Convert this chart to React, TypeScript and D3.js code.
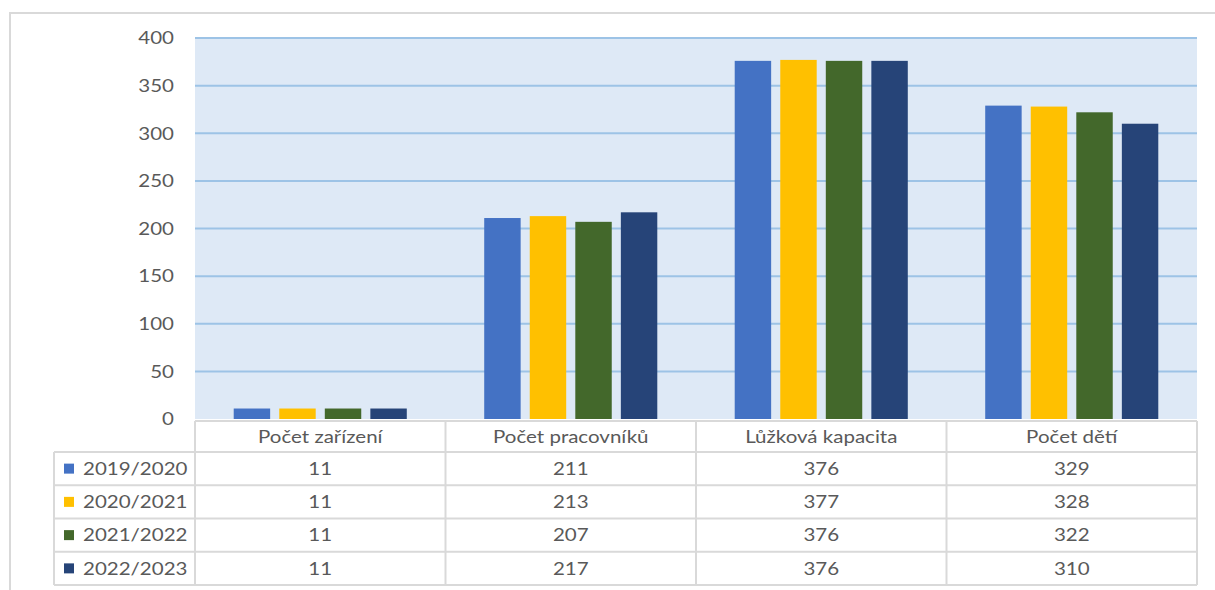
import React from "react";
import * as d3 from "d3";

const categories = ["Počet zařízení", "Počet pracovníků", "Lůžková kapacita", "Počet dětí"];
const seriesNames = ["2019/2020", "2020/2021", "2021/2022", "2022/2023"];
const s2019 = [11, 211, 376, 329];
const s2020 = [11, 213, 377, 328];
const s2021 = [11, 207, 376, 322];
const s2022 = [11, 217, 376, 310];
const seriesValues = [s2019, s2020, s2021, s2022];
const colors = ["#4472C4", "#FFC000", "#43682B", "#264478"];
const yTicks = [0, 50, 100, 150, 200, 250, 300, 350, 400];

const font = "Lato, 'Open Sans', sans-serif";
const textColor = "#595959";
const SX = 1.14;

function T({ x, y, anchor = "start", children }: { x: number; y: number; anchor?: string; children: React.ReactNode }) {
  return (
    <text
      transform={`translate(${x},${y}) scale(${SX},1)`}
      dy="0.35em"
      textAnchor={anchor}
      fontFamily={font}
      fontSize={18}
      fill={textColor}
    >
      {children}
    </text>
  );
}

export default function App() {
  const W = 1215, H = 590;
  const plotL = 195, plotR = 1197, plotT = 38, plotB = 419;
  const tableTop = 421, headerBottom = 452, rowH = 33.25, legendL = 54;
  const lineColor = "#D9D9D9";

  const x0 = d3.scaleBand<string>().domain(categories).range([plotL, plotR]).paddingInner(0).paddingOuter(0);
  const x1 = d3.scaleBand<string>().domain(seriesNames).range([0, x0.bandwidth()]).paddingInner(0.2).paddingOuter(0.85);
  const y = d3.scaleLinear().domain([0, 400]).range([plotB, plotT]);

  const rowsBottom = headerBottom + rowH * seriesNames.length;

  return (
    <svg width={W} height={H} style={{ position: "absolute", left: 0, top: 0 }}>
      <rect x={0} y={0} width={W} height={H} fill="#fff" />
      <rect x={10} y={13} width={W} height={H} fill="none" stroke={lineColor} strokeWidth={2} />
      <rect x={plotL} y={plotT - 1} width={plotR - plotL} height={plotB - plotT + 1} fill="#DEE9F6" />
      {yTicks.map((t) => (
        <g key={t}>
          {t > 0 && <line x1={plotL} x2={plotR} y1={y(t)} y2={y(t)} stroke="#9DC3E6" strokeWidth={2} />}
          <T x={174} y={y(t)} anchor="end">{t}</T>
        </g>
      ))}
      {categories.map((c, ci) => (
        <g key={c} transform={`translate(${x0(c)},0)`}>
          {seriesNames.map((s, si) => (
            <rect
              key={s}
              x={x1(s)}
              y={y(seriesValues[si][ci])}
              width={x1.bandwidth()}
              height={plotB - y(seriesValues[si][ci])}
              fill={colors[si]}
            />
          ))}
        </g>
      ))}
      <g stroke={lineColor} strokeWidth={2}>
        <line x1={plotL} x2={plotR} y1={tableTop} y2={tableTop} />
        {[0, 1, 2, 3, 4].map((i) => (
          <line key={i} x1={legendL} x2={plotR} y1={headerBottom + i * rowH} y2={headerBottom + i * rowH} />
        ))}
        <line x1={legendL} x2={legendL} y1={headerBottom} y2={rowsBottom} />
        {categories.map((c) => (
          <line key={c} x1={x0(c)} x2={x0(c)} y1={tableTop} y2={rowsBottom} />
        ))}
        <line x1={plotR} x2={plotR} y1={tableTop} y2={rowsBottom} />
      </g>
      {categories.map((c) => (
        <T key={c} x={(x0(c) as number) + x0.bandwidth() / 2} y={(tableTop + headerBottom) / 2} anchor="middle">
          {c}
        </T>
      ))}
      {seriesNames.map((s, si) => {
        const cy = headerBottom + rowH * si + rowH / 2;
        return (
          <g key={s}>
            <rect x={64} y={cy - 5} width={10} height={10} fill={colors[si]} />
            <T x={83} y={cy}>{s}</T>
            {categories.map((c, ci) => (
              <T key={c} x={(x0(c) as number) + x0.bandwidth() / 2} y={cy} anchor="middle">
                {seriesValues[si][ci]}
              </T>
            ))}
          </g>
        );
      })}
    </svg>
  );
}
